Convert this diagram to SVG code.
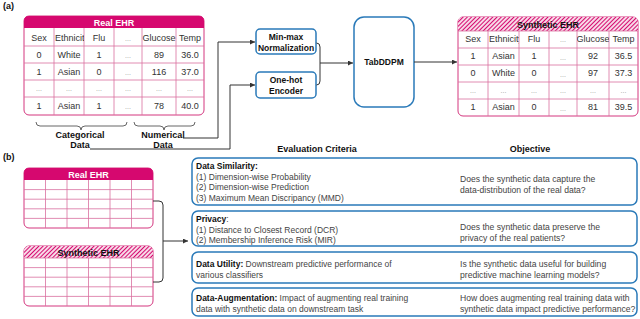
<svg xmlns="http://www.w3.org/2000/svg" width="640" height="319" viewBox="0 0 640 319">
<defs>
<style>
text{font-family:"Liberation Sans",Arial,sans-serif;}
.lbl{font-size:9px;font-weight:bold;fill:#111;}
.c{font-size:9px;fill:#333;text-anchor:middle;}
.cl{font-size:9px;fill:#333;}
.d{font-size:7px;fill:#999;text-anchor:middle;}
.hw{font-size:9px;font-weight:bold;fill:#fff;text-anchor:middle;}
.hb{font-size:9px;font-weight:bold;fill:#111;text-anchor:middle;}
.tb{fill:#fff;stroke:#d4377f;stroke-width:1;}
.g{stroke:#d9709f;stroke-width:0.8;fill:none;}
.mag{fill:#d6086f;}
.bx{fill:#fff;stroke:#2a7ab9;stroke-width:1.5;}
.bt{font-size:8.5px;font-weight:bold;fill:#111;text-anchor:middle;}
.cr{font-size:8.5px;fill:#444;}
.crb{font-size:8.5px;font-weight:bold;fill:#111;}
.ob{font-size:8.6px;fill:#444;}
.hd{font-size:9px;font-weight:bold;fill:#111;text-anchor:middle;}
.ln{fill:none;stroke:#333;stroke-width:1;}
.br{fill:none;stroke:#555;stroke-width:0.9;}
</style>
<marker id="ar" viewBox="0 0 6 6" refX="6" refY="3" markerWidth="5" markerHeight="5" orient="auto" markerUnits="userSpaceOnUse"><path d="M0,0 L6,3 L0,6 Z" fill="#333"/></marker>
<pattern id="hatch" width="3" height="3" patternUnits="userSpaceOnUse" patternTransform="rotate(45)"><rect width="3" height="3" fill="#f7d9e7"/><line x1="0.5" y1="0" x2="0.5" y2="3" stroke="#d6086f" stroke-width="1"/></pattern>
<clipPath id="cE1"><rect x="54" y="28" width="30" height="18"/></clipPath>
<clipPath id="cE2"><rect x="488" y="31" width="31" height="17"/></clipPath>
<clipPath id="cG2"><rect x="577" y="31" width="32" height="17"/></clipPath>
</defs>
<rect width="640" height="319" fill="#fff"/>

<text x="3" y="9" class="lbl">(a)</text>
<text x="3" y="160" class="lbl">(b)</text>

<g id="real-ehr-a">
<rect class="tb" x="24" y="16" width="180" height="99" rx="5"/>
<path class="mag" d="M24,28 V21 Q24,16 29,16 H199 Q204,16 204,21 V28 Z"/>
<text x="114" y="25.5" class="hw">Real EHR</text>
<path class="g" d="M24,46 H204 M24,63 H204 M24,80 H204 M24,97 H204 M54,28 V115 M84,28 V115 M114,28 V115 M142,28 V115 M176,28 V115"/>
<text x="39" y="41" class="c">Sex</text>
<text x="55" y="41" class="cl" clip-path="url(#cE1)">Ethnicity</text>
<text x="99" y="41" class="c">Flu</text>
<text x="128" y="41" class="d">...</text>
<text x="159" y="41" class="c">Glucose</text>
<text x="190" y="41" class="c">Temp</text>
<text x="39" y="58" class="c">0</text>
<text x="69" y="58" class="c">White</text>
<text x="99" y="58" class="c">1</text>
<text x="128" y="58" class="d">...</text>
<text x="159" y="58" class="c">89</text>
<text x="190" y="58" class="c">36.0</text>
<text x="39" y="75" class="c">1</text>
<text x="69" y="75" class="c">Asian</text>
<text x="99" y="75" class="c">0</text>
<text x="128" y="75" class="d">...</text>
<text x="159" y="75" class="c">116</text>
<text x="190" y="75" class="c">37.0</text>
<text x="39" y="91" class="d">...</text>
<text x="69" y="91" class="d">...</text>
<text x="99" y="91" class="d">...</text>
<text x="128" y="91" class="d">...</text>
<text x="159" y="91" class="d">...</text>
<text x="190" y="91" class="d">...</text>
<text x="39" y="109" class="c">1</text>
<text x="69" y="109" class="c">Asian</text>
<text x="99" y="109" class="c">1</text>
<text x="128" y="109" class="d">...</text>
<text x="159" y="109" class="c">78</text>
<text x="190" y="109" class="c">40.0</text>
</g>

<g id="categorical-data">
<path class="br" d="M36,122 Q36,126 40,126 H77 Q81,126 81,130 Q81,126 85,126 H123 Q127,126 127,122"/>
<text x="80" y="138" class="hb">Categorical</text>
<text x="80" y="148" class="hb">Data</text>
</g>
<g id="numerical-data">
<path class="br" d="M134,122 Q134,126 138,126 H160 Q164,126 164,130 Q164,126 168,126 H191 Q195,126 195,122"/>
<text x="163" y="138" class="hb">Numerical</text>
<text x="163" y="148" class="hb">Data</text>
</g>

<g id="minmax">
<rect class="bx" x="256" y="29" width="60" height="25" rx="4"/>
<text x="286" y="40" class="bt">Min-max</text>
<text x="286" y="50.5" class="bt">Normalization</text>
</g>
<g id="onehot">
<rect class="bx" x="256" y="72" width="60" height="26" rx="4"/>
<text x="286" y="83" class="bt">One-hot</text>
<text x="286" y="93.5" class="bt">Encoder</text>
</g>
<g id="tabddpm">
<rect class="bx" x="354" y="17" width="60" height="90" rx="10"/>
<text x="384" y="65" class="bt">TabDDPM</text>
</g>

<g id="synthetic-ehr-a">
<rect class="tb" x="458" y="17" width="180" height="99" rx="5"/>
<path d="M458,31 V22 Q458,17 463,17 H633 Q638,17 638,22 V31 Z" fill="url(#hatch)"/>
<text x="548" y="27.5" class="hb">Synthetic EHR</text>
<path class="g" d="M458,31 H638 M458,48 H638 M458,65 H638 M458,82 H638 M458,99 H638 M488,31 V116 M519,31 V116 M549,31 V116 M577,31 V116 M609,31 V116"/>
<text x="473" y="42" class="c">Sex</text>
<text x="489" y="42" class="cl" clip-path="url(#cE2)">Ethnicity</text>
<text x="534" y="42" class="c">Flu</text>
<text x="563" y="42" class="d">...</text>
<text x="593" y="42" class="c" clip-path="url(#cG2)">Glucose</text>
<text x="623.5" y="42" class="c">Temp</text>
<text x="473" y="59" class="c">1</text>
<text x="503.5" y="59" class="c">Asian</text>
<text x="534" y="59" class="c">1</text>
<text x="563" y="60" class="d">...</text>
<text x="593" y="59" class="c">92</text>
<text x="623.5" y="59" class="c">36.5</text>
<text x="473" y="76" class="c">0</text>
<text x="503.5" y="76" class="c">White</text>
<text x="534" y="76" class="c">0</text>
<text x="563" y="77" class="d">...</text>
<text x="593" y="76" class="c">97</text>
<text x="623.5" y="76" class="c">37.3</text>
<text x="473" y="93" class="d">...</text>
<text x="503.5" y="93" class="d">...</text>
<text x="534" y="93" class="d">...</text>
<text x="563" y="93" class="d">...</text>
<text x="593" y="93" class="d">...</text>
<text x="623.5" y="93" class="d">...</text>
<text x="473" y="110" class="c">1</text>
<text x="503.5" y="110" class="c">Asian</text>
<text x="534" y="110" class="c">0</text>
<text x="563" y="111" class="d">...</text>
<text x="593" y="110" class="c">81</text>
<text x="623.5" y="110" class="c">39.5</text>
</g>

<g id="real-ehr-b">
<rect class="tb" x="24" y="168" width="129" height="60" rx="5"/>
<path class="mag" d="M24,180 V173 Q24,168 29,168 H148 Q153,168 153,173 V180 Z"/>
<text x="88.5" y="177.5" class="hw">Real EHR</text>
<path class="g" d="M24,189.6 H153 M24,199.2 H153 M24,208.8 H153 M24,218.4 H153 M45.5,180 V228 M67,180 V228 M88.5,180 V228 M110,180 V228 M131.5,180 V228"/>
</g>
<g id="synthetic-ehr-b">
<rect class="tb" x="24" y="246" width="129" height="60" rx="5"/>
<path d="M24,258 V251 Q24,246 29,246 H148 Q153,246 153,251 V258 Z" fill="url(#hatch)"/>
<text x="88.5" y="255.5" class="hb">Synthetic EHR</text>
<path class="g" d="M24,258 H153 M24,267.6 H153 M24,277.2 H153 M24,286.8 H153 M24,296.4 H153 M45.5,258 V306 M67,258 V306 M88.5,258 V306 M110,258 V306 M131.5,258 V306"/>
</g>

<text x="317" y="152" class="hd">Evaluation Criteria</text>
<text x="530" y="152" class="hd">Objective</text>

<g id="similarity">
<rect class="bx" x="192" y="158" width="445" height="47" rx="6"/>
<text x="196" y="169" class="crb">Data Similarity:</text>
<text x="196" y="179.5" class="cr">(1) Dimension-wise Probability</text>
<text x="196" y="190" class="cr">(2) Dimension-wise Prediction</text>
<text x="196" y="200.5" class="cr">(3) Maximum Mean Discripancy (MMD)</text>
<text x="460" y="182" class="ob">Does the synthetic data capture the</text>
<text x="460" y="193" class="ob">data-distribution of the real data?</text>
</g>
<g id="privacy">
<rect class="bx" x="192" y="211" width="445" height="35" rx="6"/>
<text x="196" y="222" class="crb">Privacy<tspan class="cr" font-weight="normal">:</tspan></text>
<text x="196" y="232.5" class="cr">(1) Distance to Closest Record (DCR)</text>
<text x="196" y="243" class="cr">(2) Membership Inference Risk (MIR)</text>
<text x="460" y="229.5" class="ob">Does the synthetic data preserve the</text>
<text x="460" y="240.5" class="ob">privacy of the real patients?</text>
</g>
<g id="utility">
<rect class="bx" x="192" y="252" width="445" height="31" rx="6"/>
<text x="196" y="267" class="crb">Data Utility: <tspan class="cr" font-weight="normal">Downstream predictive performance of</tspan></text>
<text x="196" y="278" class="cr">various classifiers</text>
<text x="460" y="267" class="ob">Is the synthetic data useful for building</text>
<text x="460" y="278" class="ob">predictive machine learning models?</text>
</g>
<g id="augmentation">
<rect class="bx" x="192" y="288" width="445" height="28" rx="6"/>
<text x="196" y="301" class="crb">Data-Augmentation: <tspan class="cr" font-weight="normal">Impact of augmenting real training</tspan></text>
<text x="196" y="312" class="cr">data with synthetic data on downstream task</text>
<text x="460" y="301" class="ob">How does augmenting real training data with</text>
<text x="460" y="312" class="ob">synthetic data impact predictive performance?</text>
</g>

<g id="connectors">
<path class="ln" d="M183,138 H218 V42 H255" marker-end="url(#ar)"/>
<path class="ln" d="M90,149 H230 V85 H255" marker-end="url(#ar)"/>
<path class="ln" d="M316.5,43 Q320,43 320,47 V81 Q320,85 316.5,85"/>
<path class="ln" d="M320,63 H353" marker-end="url(#ar)"/>
<path class="ln" d="M414,62 H457" marker-end="url(#ar)"/>
<path class="ln" d="M153,201 H159 Q163,201 163,205 V278 Q163,282 159,282 H153"/>
<path class="ln" d="M163,241 H188" marker-end="url(#ar)"/>
</g>
</svg>
